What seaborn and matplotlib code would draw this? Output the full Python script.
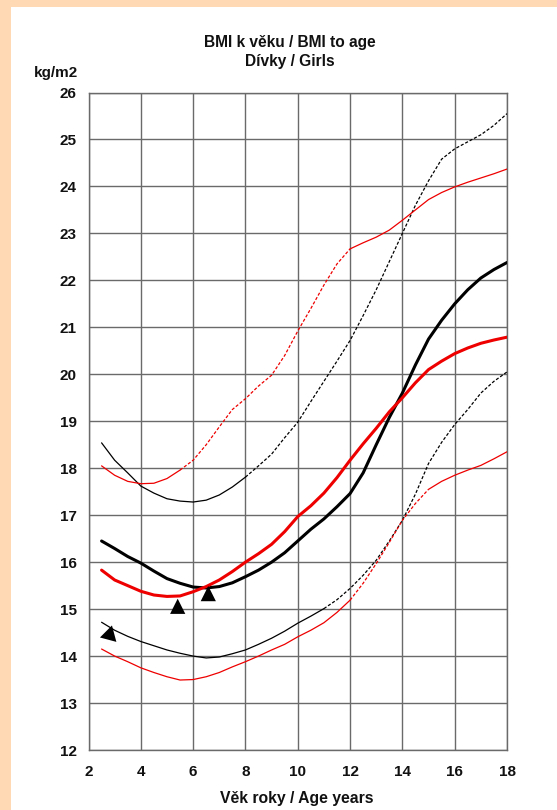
import matplotlib
matplotlib.use('Agg')
import matplotlib.pyplot as plt
import pandas as pd
import seaborn as sns
from matplotlib.patches import Rectangle

# -----------------------
# values (age in years, BMI in kg/m2)

ages = [2.5, 3, 3.5, 4, 4.5, 5, 5.5, 6, 6.5, 7, 7.5, 8, 8.5, 9, 9.5, 10,
	10.5, 11, 11.5, 12, 12.5, 13, 13.5, 14, 14.5, 15, 15.5, 16, 16.5, 17, 17.5, 18]

black_mid = [16.45, 16.29, 16.12, 15.98, 15.81, 15.65, 15.55, 15.47, 15.45, 15.48,
	15.56, 15.69, 15.83, 16.00, 16.20, 16.45, 16.70, 16.92, 17.18, 17.46, 17.90,
	18.50, 19.08, 19.60, 20.20, 20.75, 21.15, 21.50, 21.80, 22.05, 22.23, 22.38]

red_mid = [15.83, 15.62, 15.50, 15.38, 15.30, 15.27, 15.28, 15.37, 15.48, 15.62,
	15.80, 16.00, 16.18, 16.38, 16.65, 16.97, 17.20, 17.47, 17.80, 18.17, 18.52,
	18.85, 19.20, 19.50, 19.82, 20.10, 20.28, 20.44, 20.56, 20.66, 20.73, 20.79]

black_hi = [18.54, 18.17, 17.90, 17.62, 17.47, 17.35, 17.30, 17.28, 17.32, 17.43,
	17.60, 17.81, 18.05, 18.30, 18.65, 18.98, 19.42, 19.85, 20.28, 20.72, 21.25,
	21.80, 22.40, 23.00, 23.60, 24.12, 24.58, 24.80, 24.95, 25.10, 25.30, 25.55]

red_hi = [18.05, 17.85, 17.72, 17.67, 17.68, 17.78, 17.96, 18.17, 18.50, 18.88,
	19.25, 19.48, 19.75, 19.98, 20.40, 20.92, 21.40, 21.90, 22.35, 22.67, 22.80,
	22.92, 23.07, 23.28, 23.50, 23.72, 23.87, 23.99, 24.09, 24.18, 24.27, 24.37]

black_lo = [14.72, 14.55, 14.42, 14.31, 14.22, 14.13, 14.06, 14.00, 13.96, 13.98,
	14.05, 14.13, 14.25, 14.38, 14.53, 14.70, 14.85, 15.01, 15.20, 15.44, 15.72,
	16.04, 16.45, 16.89, 17.45, 18.10, 18.55, 18.93, 19.25, 19.60, 19.85, 20.05]

red_lo = [14.15, 14.00, 13.88, 13.75, 13.65, 13.56, 13.49, 13.50, 13.56, 13.65,
	13.77, 13.88, 14.00, 14.13, 14.25, 14.41, 14.55, 14.71, 14.93, 15.19, 15.55,
	15.97, 16.42, 16.89, 17.25, 17.55, 17.72, 17.85, 17.96, 18.06, 18.20, 18.35]

mark_age = [2.8, 5.41, 6.58]
mark_bmi = [14.45, 15.06, 15.33]
mark_kind = ['tilt', 'up', 'up']

# -----------------------

curves = {
	'black_hi': black_hi, 'red_hi': red_hi,
	'black_mid': black_mid, 'red_mid': red_mid,
	'black_lo': black_lo, 'red_lo': red_lo,
}
df = pd.concat([pd.DataFrame({'age': ages, 'bmi': v, 'curve': k})
	for k, v in curves.items()], ignore_index=True)

RED = '#EE0000'
DOT = (0, (2.5, 1.5))

# curve -> colour, width, [(from, to, linestyle), ...]
styles = {
	'black_hi': ('black', 0.9, [(2.5, 8, '-'), (8, 18, DOT)]),
	'red_hi': (RED, 0.9, [(2.5, 5.5, '-'), (5.5, 12, DOT), (12, 18, '-')]),
	'black_mid': ('black', 2.2, [(2.5, 18, '-')]),
	'red_mid': (RED, 2.2, [(2.5, 18, '-')]),
	'black_lo': ('black', 0.9, [(2.5, 11, '-'), (11, 18, DOT)]),
	'red_lo': (RED, 0.9, [(2.5, 12, '-'), (12, 15, DOT), (15, 18, '-')]),
}

sns.set_style('white')
plt.rcParams['font.family'] = ['Liberation Sans', 'DejaVu Sans']
plt.rcParams['font.weight'] = 'bold'

fig = plt.figure(figsize=(5.57, 8.10), dpi=100, facecolor='#FFD9B3')
fig.patches.append(Rectangle((11/557, 0), 1, 1 - 7/810, transform=fig.transFigure,
	facecolor='white', edgecolor='none', zorder=-10))

ax = fig.add_axes([88.5/557, 1 - 750/810, (507 - 88.5)/557, (750 - 92.5)/810])

for name, (col, lw, segs) in styles.items():
	for a0, a1, ls in segs:
		sub = df[(df['curve'] == name) & (df['age'] >= a0) & (df['age'] <= a1)]
		sns.lineplot(data=sub, x='age', y='bmi', color=col, lw=lw, linestyle=ls,
			ax=ax, legend=False, errorbar=None, zorder=3)

marks = pd.DataFrame({'age': mark_age, 'bmi': mark_bmi, 'kind': mark_kind})
sns.scatterplot(data=marks, x='age', y='bmi', style='kind', size='kind',
	markers={'up': '^', 'tilt': (3, 0, -15)}, sizes={'up': 120, 'tilt': 200},
	color='black', linewidth=0, ax=ax, legend=False, zorder=4)

ax.set(xlim=(2, 18), ylim=(12, 26), xlabel='', ylabel='',
	xticks=range(2, 19, 2), yticks=range(12, 27))
ax.grid(True, color='#6a6a6a', lw=1.0)
ax.set_axisbelow(True)
for sp in ax.spines.values():
	sp.set_color('#6a6a6a')
	sp.set_linewidth(1.0)
ax.tick_params(axis='both', length=0, labelsize=11, labelcolor='#111111')
ax.tick_params(axis='x', pad=11)
ax.tick_params(axis='y', pad=8.5)

fig.text(289.7/557, 1 - 42.3/810, 'BMI k věku / BMI to age', ha='center', va='center',
	fontsize=11.2, fontweight='bold', color='#111111')
fig.text(289.7/557, 1 - 61.7/810, 'Dívky / Girls', ha='center', va='center',
	fontsize=11.2, fontweight='bold', color='#111111')
fig.text(55.7/557, 1 - 73.3/810, 'kg/m2', ha='center', va='center',
	fontsize=11, fontweight='bold', color='#111111')
fig.text(297/557, 1 - 798/810, 'Věk roky / Age years', ha='center', va='center',
	fontsize=11.3, fontweight='bold', color='#111111')

plt.savefig('out.png', dpi=100, facecolor=fig.get_facecolor())
